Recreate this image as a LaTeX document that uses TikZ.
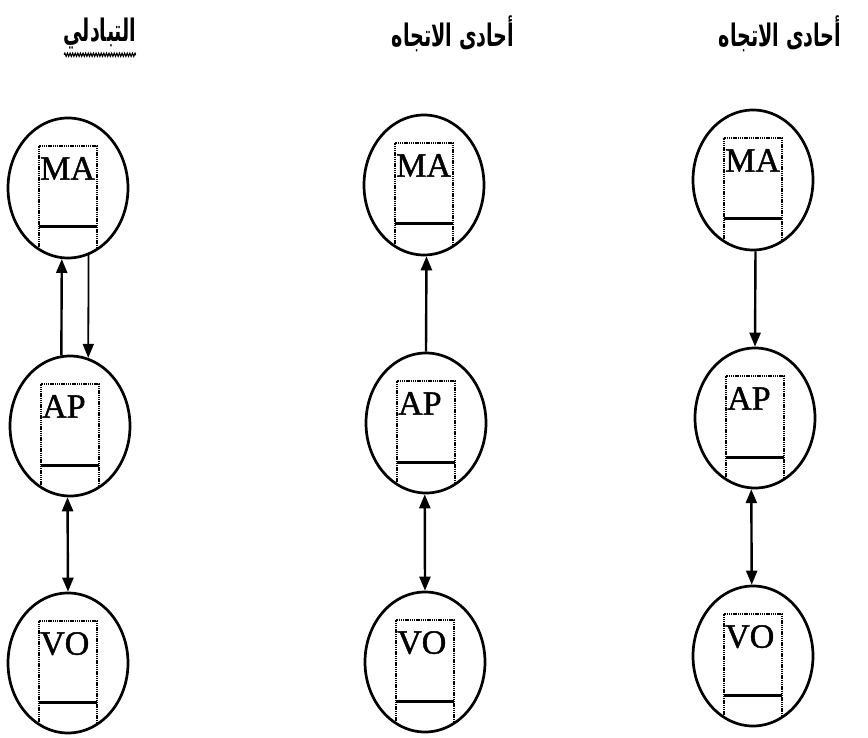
\documentclass[tikz,border=0pt]{standalone}
\usepackage{fontspec}
\setmainfont{Liberation Serif}
\newfontfamily\tagfont[FakeBold=1.2]{Liberation Serif}
\newfontfamily\arabicfont[Script=Arabic]{DejaVu Sans}
\TeXXeTstate=1
\usetikzlibrary{shapes.geometric,arrows.meta,calc,decorations.pathmorphing}

% dotted card inside a station: open frame, solid base line and its label
\newcommand\cardbox[2]{%
  \draw[frame] ($(#1.center)+(-29,61)$) -- ($(#1.center)+(-29,-42)$)
               -- ($(#1.center)+(29,-42)$) -- ($(#1.center)+(29,61)$);
  \draw[base] ($(#1.center)+(-29,39)$) -- ($(#1.center)+(29,39)$);
  \node[tag] (#1-tag) at ($(#1.center)+(-28,-31)$) {#2};
}
% condensed, tall Arabic heading
\newcommand\heading[1]{\scalebox{0.62}[1]{\beginR #1\endR}}

\begin{document}
\begin{tikzpicture}[x=1pt,y=-1pt,
  unit/.style={ellipse, draw, line width=2.7pt, minimum width=120pt,
               minimum height=140pt, inner sep=0pt},
  link/.style={line width=2.4pt, -{Triangle[length=14pt,width=11pt]}},
  both/.style={line width=2.4pt,
               {Triangle[length=14pt,width=11pt]}-{Triangle[length=14pt,width=11pt]}},
  frame/.style={line width=2.2pt, dash pattern=on 1.4pt off 0.8pt},
  base/.style={line width=3pt},
  tag/.style={font=\tagfont\fontsize{34}{34}\selectfont, anchor=north west, inner sep=0pt},
  title/.style={font=\arabicfont\bfseries\fontsize{31}{34}\selectfont, inner sep=0pt}
]
\path[fill=white] (0,0) rectangle (868,738);
\useasboundingbox (0,0) rectangle (868,738);

% column titles
\node[title] (t1) at (100,34) {\heading{التبادلي}};
\node[title] (t2) at (453,34) {\heading{أحادى الاتجاه}};
\node[title] (t3) at (780,34) {\heading{أحادى الاتجاه}};
\draw[line width=1.1pt, decorate, decoration={zigzag, segment length=2.6pt, amplitude=1.6pt}]
  ($(t1.south west)+(1,5)$) -- ($(t1.south east)+(-1,5)$);

% stations
\node[unit] (ma1) at (68,188) {};
\node[unit] (ap1) at (70,426) {};
\node[unit] (vo1) at (68,663) {};
\node[unit] (ma2) at (424,185) {};
\node[unit] (ap2) at (426,423) {};
\node[unit] (vo2) at (425,662) {};
\node[unit] (ma3) at (753,180) {};
\node[unit] (ap3) at (755,418) {};
\node[unit] (vo3) at (753,656) {};

\cardbox{ma1}{MA}
\cardbox{ap1}{AP}
\cardbox{vo1}{VO}
\cardbox{ma2}{MA}
\cardbox{ap2}{AP}
\cardbox{vo2}{VO}
\cardbox{ma3}{MA}
\cardbox{ap3}{AP}
\cardbox{vo3}{VO}

% links
\draw[link] (ap1.97) -- (ma1.265);
\draw[link, line width=1.8pt] (ma1.-73) -- (ap1.75);
\draw[both] (ap1.268) -- (vo1.north);

\draw[link] (ap2.north) -- (ma2.-88);
\draw[both] (ap2.-91) -- (vo2.north);

\draw[link] (ma3.-88) -- (ap3.north);
\draw[both] (ap3.267.5) -- (vo3.91);
\end{tikzpicture}
\end{document}
